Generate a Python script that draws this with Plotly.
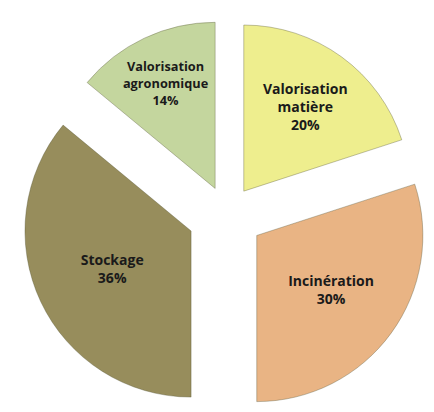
import plotly.graph_objects as go

categories = ["Valorisation<br>matière", "Incinération", "Stockage", "Valorisation<br>agronomique"]
values = [20, 30, 36, 14]
colors = ["#EEEE8E", "#E9B484", "#978D5C", "#C4D69E"]
pulls = [0.17, 0.22, 0.24, 0.17]

texts = [f"{c}<br>{v}%" for c, v in zip(categories, values)]

fig = go.Figure(go.Pie(
    labels=[c.replace("<br>", " ") for c in categories],
    values=values,
    text=texts,
    textinfo="text",
    textposition="inside",
    insidetextorientation="horizontal",
    sort=False,
    direction="clockwise",
    rotation=0,
    pull=pulls,
    marker=dict(colors=colors, line=dict(color="rgba(80,80,50,0.35)", width=1)),
    textfont=dict(family="Open Sans", size=14, color="#1a1a1a", weight="bold"),
    domain=dict(x=[0.02, 0.99], y=[0.0, 1.0]),
    hoverinfo="label+percent",
))

fig.update_layout(
    width=434, height=412,
    margin=dict(l=0, r=0, t=0, b=0),
    showlegend=False,
    paper_bgcolor="white",
    plot_bgcolor="white",
)

fig.write_html("out.html")
